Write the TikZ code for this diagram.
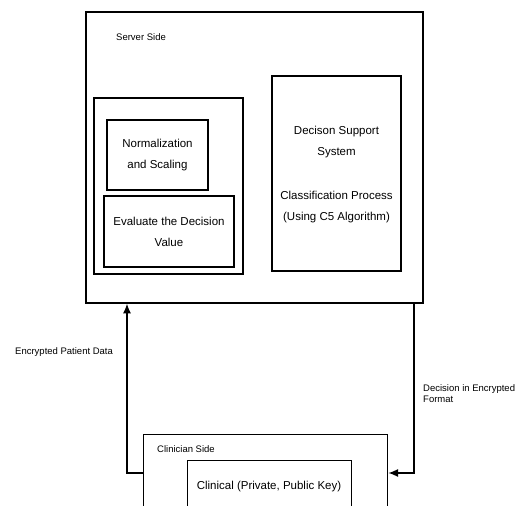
\documentclass[tikz,border=0pt]{standalone}
\usepackage{fontspec}
\setmainfont{Liberation Sans}
\usepackage{tikz}
\usetikzlibrary{positioning,arrows.meta}

\begin{document}
\begin{tikzpicture}[x=1pt,y=-1pt,
 box/.style={draw=black,line width=1.4pt,inner sep=2pt,align=center},
 arr/.style={-{Latex[length=3.4mm,width=2.8mm]},line width=1.2pt},
 small/.style={font=\fontsize{9.5}{11}\selectfont,inner sep=0pt},
 big/.style={font=\fontsize{11.5}{21}\selectfont}]
\useasboundingbox (0,0) rectangle (523,506);
\clip (0,0) rectangle (523,506);
% server side
\node[box,minimum width=337pt,minimum height=291pt] (srv) at (254.5,157.5) {};
\node[small,anchor=west] (srvlbl) at (116,37) {Server Side};
\node[box,minimum width=149pt,minimum height=176pt] (grp) at (168.5,186) {};
\node[box,big,minimum width=101pt,minimum height=70pt] (norm) at (157.5,155) {Normalization\\and Scaling};
\node[box,big,minimum width=130pt,minimum height=71pt] (eval) at (169,231.5) {Evaluate the Decision\\Value};
\node[box,minimum width=129pt,minimum height=195pt] (dss) at (336.5,173.5) {};
\node[big,align=center] (dsstxt) at (336.5,142) {Decison Support\\System};
\node[big,align=center] (cls) at (336.5,207.5) {Classification Process\\(Using C5 Algorithm)};
% clinician side
\node[box,minimum width=244pt,minimum height=100pt,anchor=north west] (clin) at (143,434) {};
\node[small,anchor=west] (clinlbl) at (157,449) {Clinician Side};
\node[box,minimum width=164pt,minimum height=80pt,anchor=north west] (clic) at (187,460) {};
\node[big] (clictxt) at (269,487) {Clinical (Private, Public Key)};
% connectors
\coordinate (lt) at (127,473);
\coordinate (rt) at (414,473);
\draw[arr] (clin.west |- lt) -- (lt) -- (lt |- srv.south);
\draw[arr] (rt |- srv.south) -- (rt) -- (clin.east |- rt);
\node[small,anchor=west] (enc) at (15,352) {Encrypted Patient Data};
\node[small,anchor=north west,align=left] (dec) at (423,384) {Decision in Encrypted\\Format};
\end{tikzpicture}
\end{document}
